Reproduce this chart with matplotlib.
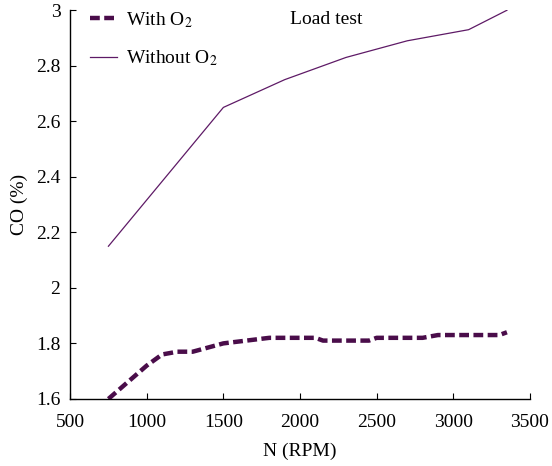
import matplotlib
matplotlib.use('Agg')
import matplotlib.pyplot as plt

plt.rcParams['font.family'] = ['Liberation Serif', 'DejaVu Serif']
plt.rcParams['mathtext.fontset'] = 'stix'

# data
rpm_with = [750, 1000, 1100, 1200, 1300, 1500, 1650, 1800, 2100, 2150, 2450, 2500, 2800, 2900, 3300, 3350]
co_with = [1.60, 1.72, 1.76, 1.77, 1.77, 1.80, 1.81, 1.82, 1.82, 1.81, 1.81, 1.82, 1.82, 1.83, 1.83, 1.84]

rpm_without = [750, 1500, 1900, 2300, 2700, 3100, 3350]
co_without = [2.15, 2.65, 2.75, 2.83, 2.89, 2.93, 3.00]

x_ticks = [500, 1000, 1500, 2000, 2500, 3000, 3500]
y_ticks = [1.6, 1.8, 2, 2.2, 2.4, 2.6, 2.8, 3]
y_labels = ['1.6', '1.8', '2', '2.2', '2.4', '2.6', '2.8', '3']

fs = 14

fig = plt.figure(figsize=(5.52, 4.66), dpi=100)
ax = fig.add_axes([0.127, 0.144, 0.833, 0.834])

ax.plot(rpm_with, co_with, color='#4a0d4a', lw=3.2, dashes=(2.2, 1.0), label='With O$_2$')
ax.plot(rpm_without, co_without, color='#5e1a66', lw=0.9, label='Without O$_2$')

ax.set_xlim(500, 3500)
ax.set_ylim(1.6, 3)
ax.set_xticks(x_ticks)
ax.set_yticks(y_ticks)
ax.set_yticklabels(y_labels)
ax.tick_params(direction='in', length=4, labelsize=fs, width=0.8)
ax.tick_params(axis='x', pad=11)
ax.tick_params(axis='y', pad=7)
for s in ['top', 'right']:
    ax.spines[s].set_visible(False)
ax.spines['left'].set_linewidth(1.0)
ax.spines['bottom'].set_linewidth(1.0)

ax.set_xlabel('N (RPM)', fontsize=fs, labelpad=8)
ax.set_ylabel('CO (%)', fontsize=fs, labelpad=6)

ax.legend(loc='upper left', bbox_to_anchor=(0.005, 1.045), frameon=False, fontsize=fs,
          handlelength=1.4, handletextpad=0.45, labelspacing=0.95)
ax.text(0.478, 0.975, 'Load test', transform=ax.transAxes, fontsize=fs, va='center', ha='left')

fig.savefig('out.png', dpi=100)
